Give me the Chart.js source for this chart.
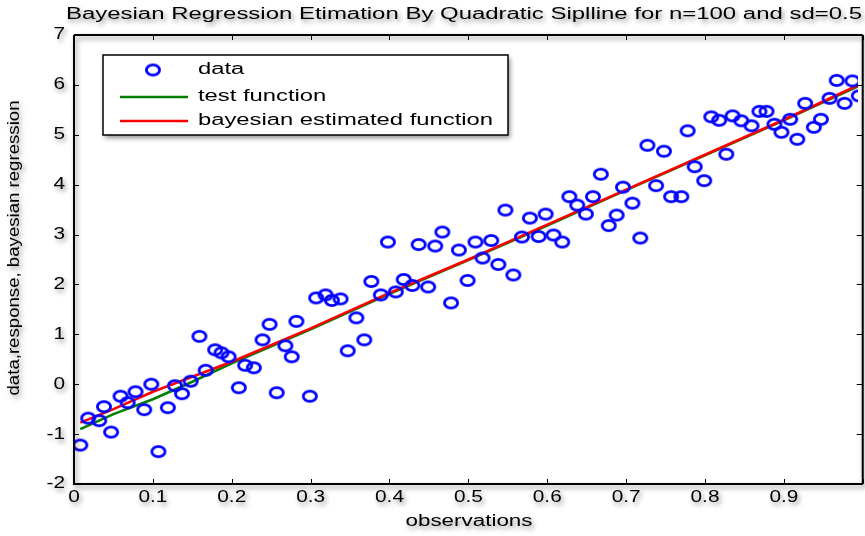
<!DOCTYPE html>
<html>
<head>
<meta charset="utf-8">
<script src="https://cdn.jsdelivr.net/npm/chart.js@4.4.1/dist/chart.umd.min.js"></script>
<style>
  html, body { margin: 0; padding: 0; background: #fff; }
  #wrap { width: 865px; height: 536px; }
</style>
</head>
<body>
<div id="wrap"><canvas id="regChart" width="865" height="536"></canvas></div>
<script>
// observations (x) and noisy response (y)
const obsX = [0.008, 0.018, 0.032, 0.038, 0.047, 0.059, 0.068, 0.078, 0.089, 0.098,
              0.107, 0.119, 0.128, 0.137, 0.148, 0.159, 0.167, 0.179, 0.187, 0.196,
              0.209, 0.217, 0.228, 0.239, 0.248, 0.257, 0.268, 0.276, 0.282, 0.299,
              0.307, 0.319, 0.327, 0.338, 0.347, 0.358, 0.368, 0.377, 0.389, 0.398,
              0.408, 0.418, 0.429, 0.437, 0.449, 0.458, 0.467, 0.478, 0.488, 0.499,
              0.509, 0.518, 0.529, 0.538, 0.547, 0.557, 0.568, 0.578, 0.589, 0.598,
              0.608, 0.619, 0.628, 0.638, 0.649, 0.658, 0.668, 0.678, 0.688, 0.696,
              0.708, 0.718, 0.727, 0.738, 0.748, 0.757, 0.770, 0.778, 0.787, 0.799,
              0.808, 0.818, 0.827, 0.835, 0.846, 0.859, 0.869, 0.878, 0.888, 0.897,
              0.908, 0.917, 0.927, 0.938, 0.947, 0.958, 0.967, 0.977, 0.987, 0.995];
const obsY = [-1.22, -0.68, -0.73, -0.45, -0.96, -0.24, -0.37, -0.15, -0.51, 0.00,
              -1.35, -0.47, -0.03, -0.19, 0.06, 0.96, 0.28, 0.69, 0.63, 0.55,
              -0.07, 0.38, 0.33, 0.89, 1.20, -0.17, 0.77, 0.55, 1.26, -0.24,
              1.73, 1.79, 1.68, 1.71, 0.67, 1.33, 0.89, 2.06, 1.79, 2.85,
              1.85, 2.10, 1.98, 2.80, 1.95, 2.77, 3.05, 1.63, 2.69, 2.08,
              2.85, 2.53, 2.88, 2.40, 3.49, 2.19, 2.95, 3.33, 2.96, 3.41,
              2.99, 2.85, 3.76, 3.59, 3.41, 3.76, 4.21, 3.18, 3.39, 3.95,
              3.63, 2.93, 4.79, 3.98, 4.67, 3.76, 3.76, 5.08, 4.36, 4.08,
              5.36, 5.29, 4.61, 5.38, 5.28, 5.18, 5.47, 5.47, 5.21, 5.05,
              5.31, 4.91, 5.63, 5.15, 5.31, 5.73, 6.09, 5.63, 6.08, 5.78];

// fitted curves, sampled along x
const curveX    = [0.008, 0.05, 0.1, 0.15, 0.2, 0.3, 0.4, 0.5, 0.6, 0.7, 0.8, 0.9, 0.995];
const testFn    = [-0.90, -0.60, -0.30, 0.05, 0.42, 1.10, 1.81, 2.49, 3.18, 3.89, 4.59, 5.29, 5.98];
const bayesFn   = [-0.77, -0.50, -0.15, 0.15, 0.45, 1.12, 1.83, 2.50, 3.20, 3.90, 4.60, 5.30, 6.00];

const xTicks = [0, 0.1, 0.2, 0.3, 0.4, 0.5, 0.6, 0.7, 0.8, 0.9, 1];
const yTicks = [-2, -1, 0, 1, 2, 3, 4, 5, 6, 7];

const titleText = 'Bayesian Regression Etimation By Quadratic Siplline for n=100 and sd=0.5';
const xLabel = 'observations';
const yLabel = 'data,response, bayesian regression';
const legendNames = ['data', 'test function', 'bayesian estimated function'];

const BLUE = '#0000ff', GREEN = '#008000', RED = '#ff0000';
const FONT = '"Liberation Sans", Arial, sans-serif';

function toPoints(xs, ys) {
    return xs.map((x, i) => ({ x: x, y: ys[i] }));
}

// the source figure is stretched sideways, so markers are ellipses
function makeMarker() {
    const c = document.createElement('canvas');
    c.width = 18; c.height = 15;
    const g = c.getContext('2d');
    g.strokeStyle = BLUE;
    g.lineWidth = 2.8;
    g.beginPath();
    g.ellipse(9, 7.5, 6.6, 5.2, 0, 0, Math.PI * 2);
    g.stroke();
    return c;
}
const marker = makeMarker();

function setShadow(ctx, on) {
    if (on) {
        ctx.shadowColor = 'rgba(0,0,0,0.45)';
        ctx.shadowBlur = 5;
        ctx.shadowOffsetX = 2;
        ctx.shadowOffsetY = 3;
    } else {
        ctx.shadowColor = 'rgba(0,0,0,0)';
        ctx.shadowBlur = 0;
        ctx.shadowOffsetX = 0;
        ctx.shadowOffsetY = 0;
    }
}

// draws text stretched horizontally (the source figure is stretched)
function stretchedText(ctx, text, x, y, size, align, sx, rot) {
    ctx.save();
    ctx.font = size + 'px ' + FONT;
    ctx.fillStyle = '#000';
    ctx.textBaseline = 'middle';
    ctx.textAlign = 'left';
    ctx.translate(x, y);
    if (rot) ctx.rotate(rot);
    ctx.scale(sx, 1);
    const w = ctx.measureText(text).width;
    let off = 0;
    if (align === 'center') off = -w / 2;
    if (align === 'right') off = -w;
    ctx.fillText(text, off, 0);
    ctx.restore();
}

const matlabFrame = {
    id: 'matlabFrame',
    afterDatasetsDraw(chart) {
        const ctx = chart.ctx;
        const xs = chart.scales.x, ys = chart.scales.y;
        const left = xs.getPixelForValue(0), right = xs.getPixelForValue(1);
        const top = ys.getPixelForValue(7), bottom = ys.getPixelForValue(-2);

        ctx.save();
        // box with soft shadow
        setShadow(ctx, true);
        ctx.strokeStyle = '#000';
        ctx.lineWidth = 2;
        ctx.beginPath();
        ctx.moveTo(left, top); ctx.lineTo(right, top);
        ctx.moveTo(left, top); ctx.lineTo(left, bottom); ctx.lineTo(right, bottom);
        ctx.moveTo(right, top); ctx.lineTo(right, bottom);
        ctx.stroke();
        setShadow(ctx, false);

        // inward ticks
        ctx.lineWidth = 1;
        ctx.beginPath();
        xTicks.forEach(v => {
            const px = Math.round(xs.getPixelForValue(v)) + 0.5;
            ctx.moveTo(px, bottom); ctx.lineTo(px, bottom - 5);
            ctx.moveTo(px, top); ctx.lineTo(px, top + 5);
        });
        yTicks.forEach(v => {
            const py = Math.round(ys.getPixelForValue(v)) + 0.5;
            ctx.moveTo(left, py); ctx.lineTo(left + 5, py);
            ctx.moveTo(right, py); ctx.lineTo(right - 6, py);
        });
        ctx.stroke();

        // tick labels (the 1 label falls outside the cropped figure)
        setShadow(ctx, true);
        xTicks.filter(v => v < 1).forEach(v => {
            stretchedText(ctx, String(v), xs.getPixelForValue(v), bottom + 14, 16, 'center', 1.3);
        });
        yTicks.forEach(v => {
            stretchedText(ctx, String(v), left - 9, ys.getPixelForValue(v), 16, 'right', 1.3);
        });

        // title and axis labels
        ctx.save();
        ctx.font = '16px ' + FONT;
        const tsx = 796 / ctx.measureText(titleText).width;
        ctx.restore();
        stretchedText(ctx, titleText, 464, 15, 16, 'center', tsx);
        stretchedText(ctx, xLabel, 469, 522, 16, 'center', 1.4);
        ctx.save();
        ctx.font = '16px ' + FONT;
        const ysx = 295 / ctx.measureText(yLabel).width;
        ctx.restore();
        stretchedText(ctx, yLabel, 15, 248, 16, 'center', ysx, -Math.PI / 2);

        // legend box
        const lx = 103, ly = 55, lw = 405, lh = 80;
        ctx.fillStyle = '#fff';
        ctx.fillRect(lx, ly, lw, lh);
        setShadow(ctx, false);
        ctx.strokeStyle = '#000';
        ctx.lineWidth = 1.5;
        ctx.strokeRect(lx, ly, lw, lh);

        const rows = [70, 97, 121];
        ctx.drawImage(marker, 153 - 9, rows[0] - 7.5);
        ctx.lineWidth = 2.5;
        [[GREEN, rows[1]], [RED, rows[2]]].forEach(([c, y]) => {
            ctx.strokeStyle = c;
            ctx.beginPath();
            ctx.moveTo(120, y); ctx.lineTo(188, y);
            ctx.stroke();
        });
        ctx.save();
        ctx.font = '16px ' + FONT;
        const lsx = 295 / ctx.measureText(legendNames[2]).width;
        ctx.restore();
        legendNames.forEach((n, i) => {
            stretchedText(ctx, n, 198, rows[i], 16, 'left', lsx);
        });
        ctx.restore();
    }
};

const ctx = document.getElementById('regChart').getContext('2d');

new Chart(ctx, {
    type: 'scatter',
    data: {
        datasets: [
            {
                label: legendNames[1],
                data: toPoints(curveX, testFn),
                showLine: true,
                borderColor: GREEN,
                borderWidth: 2.6,
                pointRadius: 0,
                fill: false,
                order: 2
            },
            {
                label: legendNames[2],
                data: toPoints(curveX, bayesFn),
                showLine: true,
                borderColor: RED,
                borderWidth: 2.6,
                pointRadius: 0,
                fill: false,
                order: 1
            },
            {
                label: legendNames[0],
                data: toPoints(obsX, obsY),
                showLine: false,
                pointStyle: marker,
                pointRadius: 6,
                order: 0
            }
        ]
    },
    options: {
        responsive: false,
        devicePixelRatio: 1,
        animation: false,
        layout: { padding: { top: 35, right: 0, left: 0, bottom: 0 } },
        plugins: {
            legend: { display: false },
            title: { display: false },
            tooltip: { enabled: false }
        },
        scales: {
            x: {
                type: 'linear',
                min: 0,
                max: 0.994,
                grid: { display: false, drawTicks: false },
                border: { display: false },
                ticks: { display: false, stepSize: 0.1 },
                afterFit: s => { s.height = 52; }
            },
            y: {
                min: -2,
                max: 7,
                grid: { display: false, drawTicks: false },
                border: { display: false },
                ticks: { display: false, stepSize: 1 },
                afterFit: s => { s.width = 74; }
            }
        }
    },
    plugins: [matlabFrame]
});
</script>
</body>
</html>
